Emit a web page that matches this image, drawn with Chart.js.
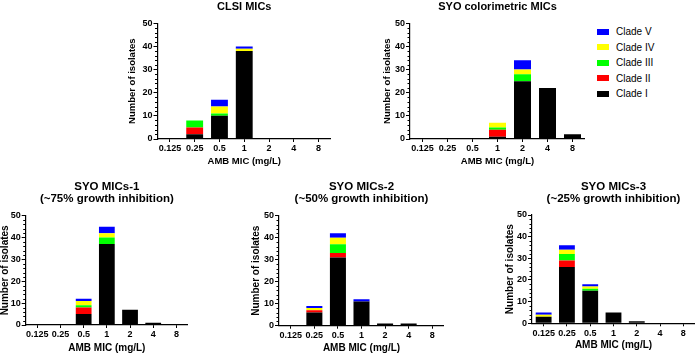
<!DOCTYPE html>
<html lang="en">
<head>
<meta charset="UTF-8">
<title>AMB MIC distributions</title>
<script src="https://cdn.jsdelivr.net/npm/chart.js"></script>
<style>
    body {
        margin: 0;
        width: 696px;
        height: 353px;
        overflow: hidden;
        position: relative;
        background: #ffffff;
        font-family: "Liberation Sans", Arial, sans-serif;
    }
    canvas { position: absolute; }
    #legend {
        position: absolute;
        left: 597px;
        top: 24px;
        font-size: 10px;
        color: #000;
    }
    #legend .item { height: 15.5px; display: flex; align-items: center; }
    #legend .box { width: 12px; height: 6px; margin-right: 7px; }
</style>
</head>
<body>
<div id="legend"></div>
<script>
    const mics = ['0.125', '0.25', '0.5', '1', '2', '4', '8'];
    const clades = ['Clade I', 'Clade II', 'Clade III', 'Clade IV', 'Clade V'];
    const cladeColors = ['#000000', '#ff0000', '#00ff00', '#ffff00', '#0000ff'];

    // one row per clade (I, II, III, IV, V), one value per MIC
    const clsiCounts = [
        [0, 2, 10, 38, 0, 0, 0],
        [0, 3, 0, 0, 0, 0, 0],
        [0, 3, 1, 0, 0, 0, 0],
        [0, 0, 3, 1, 0, 0, 0],
        [0, 0, 3, 1, 0, 0, 0]
    ];
    const colorimetricCounts = [
        [0, 0, 0, 1, 25, 22, 2],
        [0, 0, 0, 3, 0, 0, 0],
        [0, 0, 0, 1, 3, 0, 0],
        [0, 0, 0, 2, 2, 0, 0],
        [0, 0, 0, 0, 4, 0, 0]
    ];
    const syo1Counts = [
        [0, 0, 5, 37, 7, 1, 0],
        [0, 0, 3, 0, 0, 0, 0],
        [0, 0, 1, 3, 0, 0, 0],
        [0, 0, 2, 2, 0, 0, 0],
        [0, 0, 1, 3, 0, 0, 0]
    ];
    const syo2Counts = [
        [0, 6, 31, 11, 1, 1, 0],
        [0, 1, 2, 0, 0, 0, 0],
        [0, 0, 4, 0, 0, 0, 0],
        [0, 1, 3, 0, 0, 0, 0],
        [0, 1, 2, 1, 0, 0, 0]
    ];
    const syo3Counts = [
        [3, 26, 15, 5, 1, 0, 0],
        [0, 3, 0, 0, 0, 0, 0],
        [0, 3, 1, 0, 0, 0, 0],
        [1, 2, 1, 0, 0, 0, 0],
        [1, 2, 1, 0, 0, 0, 0]
    ];

    const yTicks = [0, 10, 20, 30, 40, 50];

    // panel placement: canvas box [left, top, width, height], y axis width, x axis height
    const panels = [
        { title: 'CLSI MICs', counts: clsiCounts, box: [127, 1, 204, 166], yw: 30.5, xh: 28, pad: 10.3, small: false },
        { title: 'SYO colorimetric MICs', counts: colorimetricCounts, box: [382, 1, 203, 166], yw: 28, xh: 28, pad: 10.3, small: false },
        { title: ['SYO MICs-1', '(~75% growth inhibition)'], counts: syo1Counts, box: [0, 181, 188, 173], yw: 25.7, xh: 29, pad: 10.7, small: true },
        { title: ['SYO MICs-2', '(~50% growth inhibition)'], counts: syo2Counts, box: [251, 181, 193, 173], yw: 28, xh: 28.3, pad: 10.7, small: true },
        { title: ['SYO MICs-3', '(~25% growth inhibition)'], counts: syo3Counts, box: [505, 181, 190, 170], yw: 27, xh: 27.7, pad: 10, small: true }
    ];

    Chart.defaults.font.family = '"Liberation Sans", Arial, sans-serif';
    Chart.defaults.font.weight = 'bold';
    Chart.defaults.color = '#000';

    // Prism-style minor ticks on the y axis
    const minorTicks = {
        id: 'minorTicks',
        afterDraw(chart) {
            const y = chart.scales.y;
            const ctx = chart.ctx;
            ctx.save();
            ctx.strokeStyle = '#000';
            ctx.lineWidth = 1;
            for (let v = 2; v < y.max; v += 2) {
                if (v % 10 === 0) continue;
                const py = Math.round(y.getPixelForValue(v)) + 0.5;
                ctx.beginPath();
                ctx.moveTo(y.right - 2.5, py);
                ctx.lineTo(y.right, py);
                ctx.stroke();
            }
            ctx.restore();
        }
    };

    const charts = panels.map(p => {
        const canvas = document.createElement('canvas');
        const [left, top, w, h] = p.box;
        canvas.width = w;
        canvas.height = h;
        canvas.style.left = left + 'px';
        canvas.style.top = top + 'px';
        document.body.appendChild(canvas);

        const titleSize = p.small ? 11.5 : 11;
        const axisTitleSize = p.small ? 10 : 9.5;

        return new Chart(canvas.getContext('2d'), {
            type: 'bar',
            data: {
                labels: mics,
                datasets: clades.map((name, i) => ({
                    label: name,
                    data: p.counts[i],
                    backgroundColor: cladeColors[i],
                    borderWidth: 0,
                    barPercentage: 0.68,
                    categoryPercentage: 1
                }))
            },
            options: {
                responsive: false,
                animation: false,
                layout: { padding: 0 },
                plugins: {
                    legend: { display: false },
                    tooltip: { enabled: false },
                    title: {
                        display: true,
                        text: p.title,
                        fullSize: false,
                        color: '#000',
                        font: { size: titleSize, weight: 'bold', lineHeight: '12px' },
                        padding: { top: 0, bottom: p.pad }
                    }
                },
                scales: {
                    x: {
                        stacked: true,
                        offset: true,
                        afterFit(s) { s.height = p.xh; },
                        border: { color: '#000', width: 1.2 },
                        grid: { display: true, drawOnChartArea: false, offset: false, tickLength: 3, tickColor: '#000', tickWidth: 1 },
                        ticks: { font: { size: 9, weight: 'bold' }, padding: p.small ? 1.5 : 1, maxRotation: 0, autoSkip: false },
                        title: { display: true, text: 'AMB MIC (mg/L)', font: { size: axisTitleSize, weight: 'bold', lineHeight: '11px' }, padding: 0 }
                    },
                    y: {
                        stacked: true,
                        min: 0,
                        max: 50,
                        afterFit(s) { s.width = p.yw; },
                        afterBuildTicks(s) { s.ticks = yTicks.map(v => ({ value: v })); },
                        border: { color: '#000', width: 1.2 },
                        grid: { display: true, drawOnChartArea: false, tickLength: 4, tickColor: '#000', tickWidth: 1 },
                        ticks: { font: { size: 9, weight: 'bold' }, padding: 1 },
                        title: { display: true, text: 'Number of isolates', font: { size: axisTitleSize, weight: 'bold', lineHeight: '11px' }, padding: 0 }
                    }
                }
            },
            plugins: [minorTicks]
        });
    });

    // legend built from the colorimetric chart's datasets, Clade V on top
    const legendEl = document.getElementById('legend');
    const items = Chart.defaults.plugins.legend.labels.generateLabels(charts[1]).reverse();
    items.forEach(item => {
        const row = document.createElement('div');
        row.className = 'item';
        const box = document.createElement('span');
        box.className = 'box';
        box.style.background = item.fillStyle;
        row.appendChild(box);
        row.appendChild(document.createTextNode(item.text));
        legendEl.appendChild(row);
    });
</script>
</body>
</html>
